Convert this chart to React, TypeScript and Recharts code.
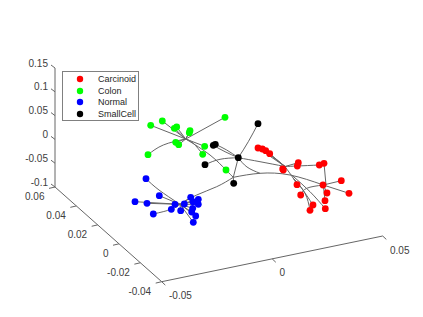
import { ScatterChart, Scatter, XAxis, YAxis, ReferenceLine, Legend } from 'recharts';

// The picture is a rotated 3D plot, and only the flat view can be read from it,
// so points are kept as [across, down] in view units.
type Pt = [number, number];

const groupNames = ['Carcinoid', 'Colon', 'Normal', 'SmallCell'];

const carcinoid: Pt[] = [
  [258, 148], [262.3, 149], [265.7, 150.7], [269.7, 153.7], [282.7, 169], [283.3, 170],
  [298.3, 162.7], [297.3, 166], [319.3, 165], [324, 163.3], [341.3, 180.7], [349, 193.3],
  [323, 185], [327, 193], [325, 200.7], [325.3, 208.7], [297, 184.7], [300.7, 195],
  [313, 205], [310, 210.3],
];
const colon: Pt[] = [
  [150.7, 125.3], [162.3, 121], [174.3, 128.3], [176.7, 127], [190, 130.7], [189.3, 132.7],
  [225, 117.3], [175.7, 142.3], [178.7, 144.7], [148, 154.7], [204.7, 146.3], [202.7, 154.3],
  [226, 170],
];
const normal: Pt[] = [
  [146, 178.7], [159.3, 195.7], [135, 201.7], [147, 203.3], [153.3, 214], [171.3, 209.3],
  [175, 204.3], [180.7, 210.7], [184.3, 204], [190.7, 197.3], [193, 201.7], [198.3, 199.3],
  [198.3, 204.3], [192.7, 208.3], [191.7, 212], [195.7, 216], [193.3, 222.3],
];
const smallCell: Pt[] = [
  [213.3, 145.3], [215.3, 144.3], [205, 164.7], [238.3, 157.7], [233.7, 183.3], [258, 123.7],
];

// tree branches, same view units
const colonBranches: Pt[][] = [
  [[185.7, 139], [150.7, 125.3]],
  [[185.7, 139], [162.3, 121]],
  [[185.7, 139], [174.3, 128.3]],
  [[185.7, 139], [176.7, 127]],
  [[185.7, 139], [190, 130.7]],
  [[185.7, 139], [189.3, 132.7]],
  [[185.7, 139], [225, 117.3]],
  [[185.7, 139], [163.3, 145], [148, 154.7]],
  [[185.7, 139], [175.7, 142.3]],
  [[185.7, 139], [178.7, 144.7]],
  [[185.7, 139], [204.7, 146.3]],
  [[185.7, 139], [193.3, 143.3], [202.7, 154.3]],
  [[185.7, 139], [210, 155], [226, 170], [233.3, 177.3]],
];
const normalBranches: Pt[][] = [
  [[146, 178.7], [159, 190], [180, 204.3]],
  [[159.3, 195.7], [180, 204.3]],
  [[135, 201.7], [180, 204.3]],
  [[147, 203.3], [180, 204.3]],
  [[153.3, 214], [171.3, 209.3], [180, 204.3]],
  [[175, 204.3], [180, 204.3]],
  [[180.7, 210.7], [180, 204.3]],
  [[190.7, 197.3], [180, 204.3]],
  [[193, 201.7], [180, 204.3]],
  [[198.3, 199.3], [180, 204.3]],
  [[198.3, 204.3], [180, 204.3]],
  [[192.7, 208.3], [180, 204.3]],
  [[191.7, 212], [180, 204.3]],
  [[195.7, 216], [180, 204.3]],
  [[193.3, 222.3], [180, 204.3]],
  [[180, 204.3], [196.7, 195], [216.7, 186.7], [233.3, 177.3]],
];
const smallCellBranches: Pt[][] = [
  [[233.3, 177.3], [238.3, 157.7]],
  [[233.3, 177.3], [233.7, 183.3]],
  [[238.3, 157.7], [248.3, 141.7], [258, 123.7]],
  [[238.3, 157.7], [220, 159.3], [205, 164.7]],
  [[238.3, 157.7], [225, 151.7], [213.3, 145.3]],
  [[238.3, 157.7], [226.7, 150], [215.3, 144.3]],
];
const carcinoidBranches: Pt[][] = [
  [[238.3, 157.7], [260, 161.7], [285, 166.5]],
  [[285, 166.5], [298.3, 162.7]],
  [[285, 166.5], [297.3, 166], [319.3, 165]],
  [[285, 166.5], [258, 148]],
  [[285, 166.5], [262.3, 149]],
  [[285, 166.5], [265.7, 150.7]],
  [[285, 166.5], [269.7, 153.7]],
  [[285, 166.5], [283, 170]],
  [[285, 166.5], [293.3, 178.3], [297, 184.7]],
  [[293.3, 178.3], [305, 193.3], [310, 210.3]],
  [[293.3, 178.3], [301.7, 188.3], [313, 205]],
  [[324, 163.3], [326, 185]],
  [[319.3, 165], [324, 163.3]],
  [[233.3, 177.3], [260, 173.3], [290, 175], [323.3, 185]],
  [[238.3, 157.7], [247, 167], [260, 173.3]],
  [[291.7, 175], [310, 191.7], [325.3, 208.7]],
  [[300.7, 195], [306.7, 188.3], [323.3, 185]],
  [[323.3, 185], [341.3, 180.7]],
  [[323.3, 185], [349, 193.3]],
  [[323.3, 185], [327, 193]],
  [[323.3, 185], [325, 200.7]],
];

const xTicks = [-0.05, 0, 0.05];
const yTicks = [-0.04, -0.02, 0, 0.02, 0.04, 0.06];
const zTicks = [-0.1, -0.05, 0, 0.05, 0.1, 0.15];

// view of the plot box, from the axis ends seen in the image
const project = (x: number, y: number, z: number) => ({
  x: 161.7 + (x + 0.05) * 2210 - (y + 0.04) * 1067,
  y: 281.7 - (x + 0.05) * 457 - (y + 0.04) * 947 - (z + 0.1) * 476,
});

const axisColor = '#666';
const textColor = '#404040';
const branchColor = '#666';

const toRows = (pts: Pt[]) => pts.map(([x, y]) => ({ x, y }));

const dot = (color: string) => (props: any) => <circle cx={props.cx} cy={props.cy} r={3.4} fill={color} />;
const noDot = () => <g />;

const tickText = (dx: number, dy: number, anchor: string) => (props: any) => (
  <text
    x={props.cx + dx}
    y={props.cy + dy}
    textAnchor={anchor as any}
    dominantBaseline="central"
    fontSize={10}
    fontFamily="Liberation Sans"
    fill={textColor}
  >
    {props.payload.label}
  </text>
);

const shift = (p: { x: number; y: number }, dx: number, dy: number) => ({ x: p.x + dx, y: p.y + dy });

function LegendBox({ payload }: any) {
  // branches and tick labels are series too, keep the four groups only
  const items = (payload || []).filter((item: any) => groupNames.includes(item.value));
  return (
    <div
      style={{
        boxSizing: 'border-box',
        width: 77,
        height: 50,
        border: '1px solid #808080',
        background: '#fff',
        paddingTop: 1,
        fontFamily: 'Liberation Sans',
        fontSize: 9,
        color: '#262626',
      }}
    >
      {items.map((item: any) => (
        <div key={item.value} style={{ display: 'flex', alignItems: 'center', height: 11.7 }}>
          <svg width={35} height={10} style={{ flex: 'none' }}>
            <circle cx={17} cy={5} r={3.2} fill={item.color} />
          </svg>
          <span>{item.value}</span>
        </div>
      ))}
    </div>
  );
}

export default function App() {
  const segments: { x: number; y: number }[][] = [
    [project(-0.05, -0.04, -0.1), project(0.05, -0.04, -0.1)],
    [project(-0.05, -0.04, -0.1), project(-0.05, 0.06, -0.1)],
    [project(-0.05, 0.06, -0.1), project(-0.05, 0.06, 0.15)],
  ];
  xTicks.forEach((t) => {
    const p = project(t, -0.04, -0.1);
    segments.push([p, shift(p, 3.6, 3.4)]);
  });
  yTicks.forEach((t) => {
    const p = project(-0.05, t, -0.1);
    segments.push([p, shift(p, -6, 1.4)]);
  });
  zTicks.forEach((t) => {
    const p = project(-0.05, 0.06, t);
    segments.push([p, shift(p, -4, -3)]);
  });

  const xLabels = xTicks.map((t) => ({ ...project(t, -0.04, -0.1), label: String(t) }));
  const yLabels = yTicks.map((t) => ({ ...project(-0.05, t, -0.1), label: String(t) }));
  const zLabels = zTicks.map((t) => ({ ...project(-0.05, 0.06, t), label: String(t) }));

  const allBranches = [...colonBranches, ...normalBranches, ...smallCellBranches, ...carcinoidBranches];

  return (
    <div style={{ position: 'absolute', left: 0, top: 0 }}>
      <ScatterChart width={423} height={317} margin={{ top: 0, right: 0, bottom: 0, left: 0 }}>
        <XAxis type="number" dataKey="x" domain={[0, 423]} hide />
        <YAxis type="number" dataKey="y" domain={[0, 317]} reversed hide />
        {segments.map((s, i) => (
          <ReferenceLine key={i} segment={s} stroke={axisColor} strokeWidth={1} ifOverflow="visible" />
        ))}
        {allBranches.map((b, i) => (
          <Scatter
            key={`b${i}`}
            data={toRows(b)}
            line={{ stroke: branchColor, strokeWidth: 1 }}
            lineJointType={b.length > 2 ? 'natural' : 'linear'}
            shape={noDot}
            legendType="none"
            isAnimationActive={false}
          />
        ))}
        <Scatter name={groupNames[0]} data={toRows(carcinoid)} fill="#ff0000" shape={dot('#ff0000')} isAnimationActive={false} />
        <Scatter name={groupNames[1]} data={toRows(colon)} fill="#00ff00" shape={dot('#00ff00')} isAnimationActive={false} />
        <Scatter name={groupNames[2]} data={toRows(normal)} fill="#0000ff" shape={dot('#0000ff')} isAnimationActive={false} />
        <Scatter name={groupNames[3]} data={toRows(smallCell)} fill="#000000" shape={dot('#000000')} isAnimationActive={false} />
        <Scatter data={xLabels} shape={tickText(7.3, 14, 'start')} legendType="none" isAnimationActive={false} />
        <Scatter data={yLabels} shape={tickText(-10.5, 9.5, 'end')} legendType="none" isAnimationActive={false} />
        <Scatter data={zLabels} shape={tickText(-7, -5, 'end')} legendType="none" isAnimationActive={false} />
        <Legend
          layout="vertical"
          align="center"
          verticalAlign="middle"
          content={<LegendBox />}
          wrapperStyle={{ left: 62, top: 71, width: 77, height: 50 }}
        />
      </ScatterChart>
    </div>
  );
}
